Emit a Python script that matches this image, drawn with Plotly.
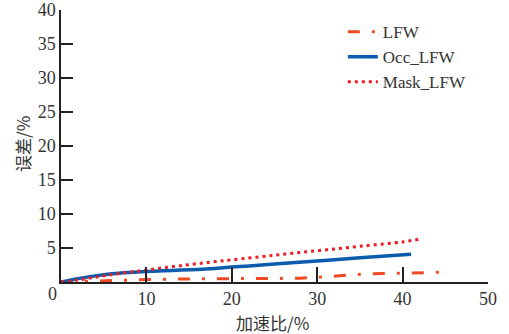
import plotly.graph_objects as go

# Data
lfw_x = [0, 5, 10, 15, 20, 25, 28, 30, 33, 36, 40, 45]
lfw_y = [0, 0.2, 0.35, 0.45, 0.5, 0.5, 0.55, 0.7, 1.0, 1.2, 1.3, 1.45]

occ_x = [0, 2, 4, 6, 8, 10, 12, 14, 16, 18, 20, 22, 25, 30, 35, 41]
occ_y = [0, 0.5, 0.9, 1.2, 1.4, 1.55, 1.65, 1.75, 1.85, 2.0, 2.2, 2.35, 2.65, 3.1, 3.55, 4.1]

mask_x = [0, 2, 4, 6, 8, 10, 12, 14, 16, 18, 20, 25, 30, 35, 40, 42]
mask_y = [0, 0.3, 0.7, 1.1, 1.45, 1.75, 2.1, 2.4, 2.7, 3.0, 3.25, 3.95, 4.6, 5.25, 5.9, 6.3]

x_ticks = [10, 20, 30, 40, 50]
y_ticks = [5, 10, 15, 20, 25, 30, 35, 40]

serif = "Liberation Serif, Times New Roman, serif"
cjk = "Noto Sans CJK SC, sans-serif"
txt = "#333333"

fig = go.Figure()
fig.add_trace(go.Scatter(x=lfw_x, y=lfw_y, mode="lines", name="LFW", legendgroup="a",
                         line=dict(color="#ef4a22", width=3, dash="12px,12px,3px,12px")))
fig.add_trace(go.Scatter(x=occ_x, y=occ_y, mode="lines", name="Occ_LFW", legendgroup="b",
                         line=dict(color="#0b5cad", width=3.5, shape="spline")))
fig.add_trace(go.Scatter(x=mask_x, y=mask_y, mode="lines", name="Mask_LFW", legendgroup="c",
                         line=dict(color="#ee1c25", width=3, dash="3px,4px", shape="spline")))

fig.update_layout(
    width=509, height=334,
    margin=dict(l=61, r=21, t=10, b=52, autoexpand=False),
    paper_bgcolor="white", plot_bgcolor="white",
    font=dict(family=serif, size=18, color=txt),
    showlegend=True,
    legend=dict(x=0.66, y=0.985, xanchor="left", yanchor="top",
                font=dict(family=serif, size=17, color=txt),
                bgcolor="rgba(0,0,0,0)", traceorder="grouped", tracegroupgap=0),
    xaxis=dict(range=[0, 50], tickvals=x_ticks, ticks="inside", ticklen=15, tickwidth=1.5,
               tickcolor="#222", showline=True, linecolor="#222", linewidth=1.5,
               showgrid=False, zeroline=False, automargin=False, ticklabeloverflow="allow"),
    yaxis=dict(range=[0, 40.01], tickvals=y_ticks, ticks="inside", ticklen=12, tickwidth=1.5,
               tickcolor="#222", showline=True, linecolor="#222", linewidth=1.5,
               showgrid=False, zeroline=False, automargin=False, ticklabeloverflow="allow"),
)
fig.add_annotation(x=0, y=0, xref="x", yref="y", text="0", showarrow=False,
                   xshift=-9, yshift=-12, font=dict(family=serif, size=18, color=txt))
fig.add_annotation(x=(272 - 61) / 427, y=-(322 - 282) / 272, xref="paper", yref="paper",
                   text="加速比/%", showarrow=False, xanchor="center", yanchor="middle",
                   font=dict(family=cjk, size=17, color=txt))
fig.add_annotation(x=-(61 - 22) / 427, y=(282 - 144) / 272, xref="paper", yref="paper",
                   text="误差/%", showarrow=False, textangle=-90, xanchor="center", yanchor="middle",
                   font=dict(family=cjk, size=17, color=txt))

fig.write_html("out.html", config={"displayModeBar": False},
               post_script="document.body.style.margin='0';")
